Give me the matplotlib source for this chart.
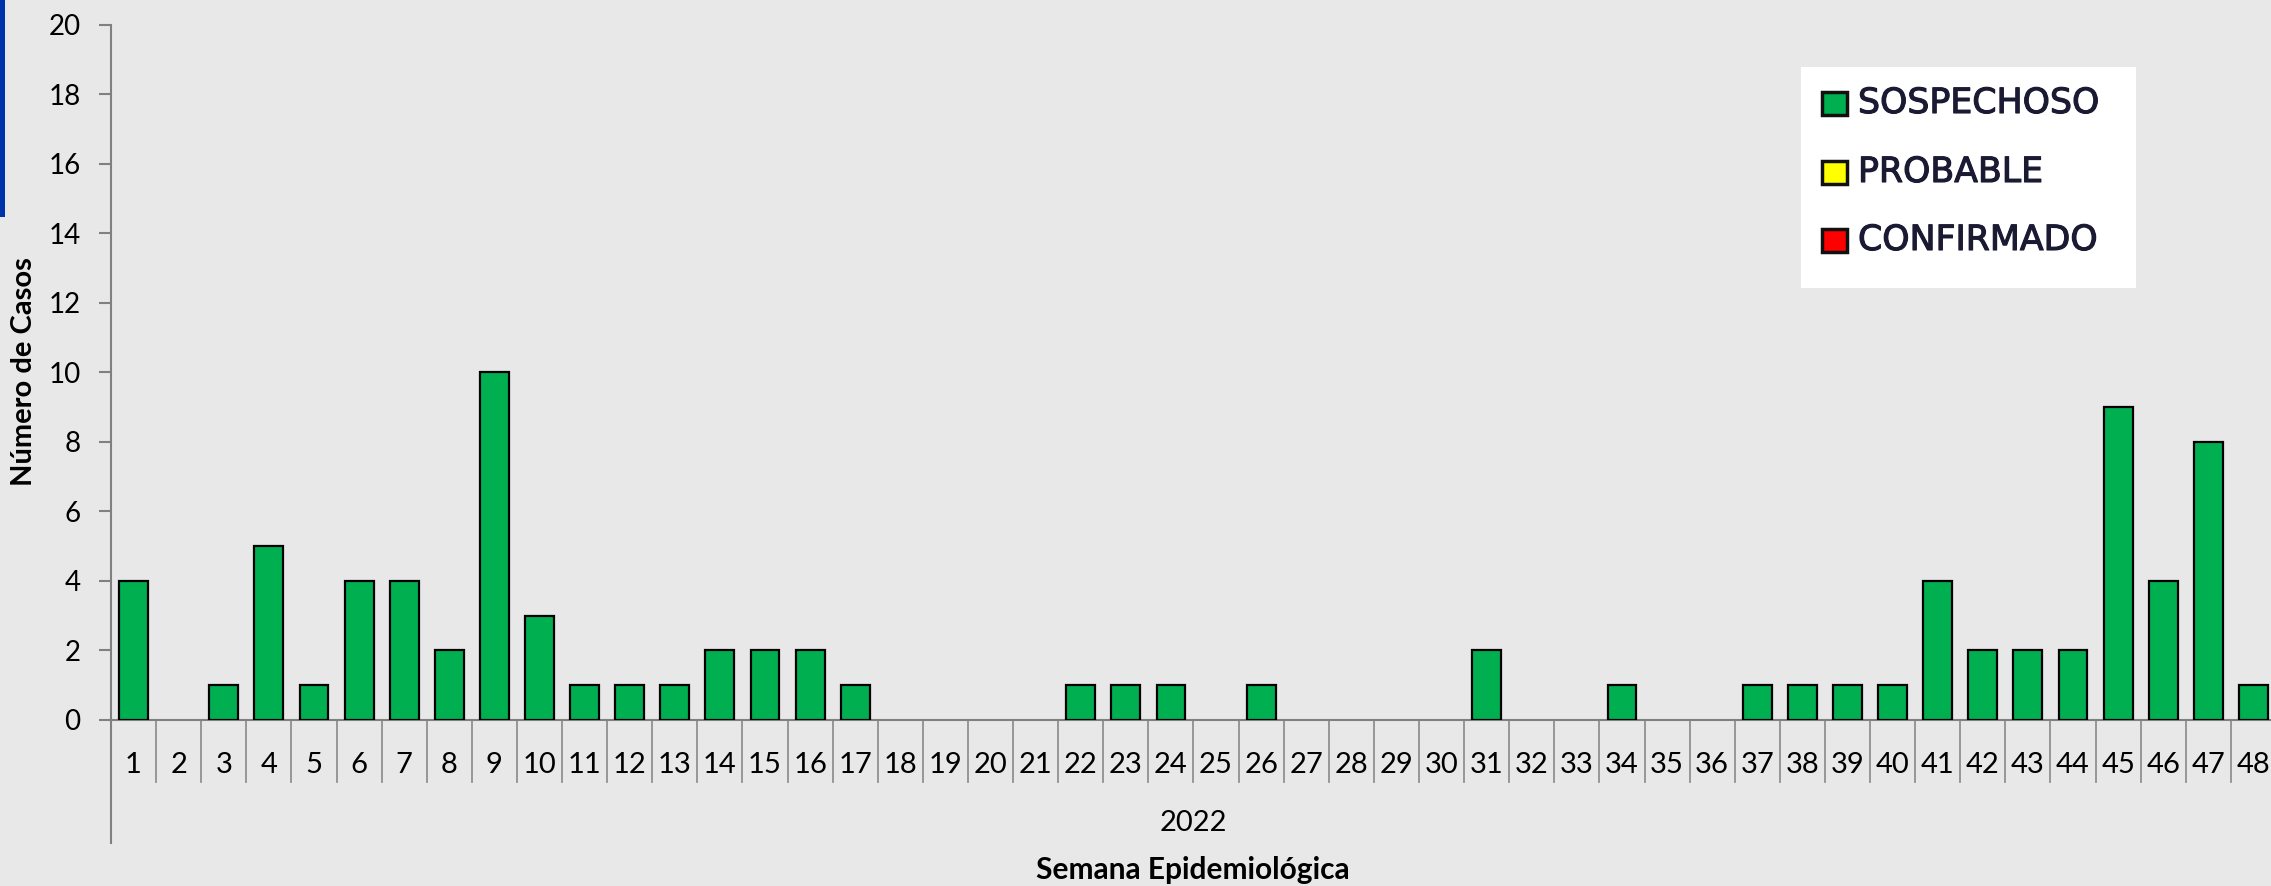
import matplotlib
matplotlib.use("Agg")
import matplotlib.pyplot as plt
from matplotlib.patches import Rectangle
import matplotlib.transforms as mtransforms
import matplotlib.patheffects as pe

weeks = [str(i) for i in range(1, 49)]
sospechoso = [4, 0, 1, 5, 1, 4, 4, 2, 10, 3, 1, 1, 1, 2, 2, 2, 1, 0, 0, 0, 0,
              1, 1, 1, 0, 1, 0, 0, 0, 0, 2, 0, 0, 1, 0, 0, 1, 1, 1, 1, 4, 2,
              2, 2, 9, 4, 8, 1]
legend_labels = ["SOSPECHOSO", "PROBABLE", "CONFIRMADO"]
legend_colors = ["#00B050", "#FFFF00", "#FF0000"]
year_label = "2022"
yticks = list(range(0, 21, 2))

plt.rcParams['font.family'] = ['Lato', 'DejaVu Sans']

W, H = 2271, 886
fig = plt.figure(figsize=(W / 100, H / 100), dpi=100)
bg = "#E8E8E8"
fig.patch.set_facecolor(bg)

ax = fig.add_axes([111 / W, (H - 720) / H, (2276 - 111) / W, (720 - 24.5) / H])
ax.set_facecolor("none")

x = list(range(len(weeks)))
lws = [1.6 if v > 0 else 0 for v in sospechoso]
ax.bar(x, sospechoso, width=0.64, color="#00B050", edgecolor="black", linewidth=lws, zorder=3)

ax.set_xlim(-0.5, len(weeks) - 0.5)
ax.set_ylim(0, 20)
ax.set_yticks(yticks)
ax.set_yticklabels([str(v) for v in yticks], fontsize=20)
ax.tick_params(axis='y', length=9, width=1.5, color="#808080", pad=13)
ax.set_xticks(x)
ax.set_xticklabels(weeks, fontsize=21)
ax.tick_params(axis='x', length=0, pad=23)

for s in ["top", "right"]:
    ax.spines[s].set_visible(False)
for s in ["left", "bottom"]:
    ax.spines[s].set_color("#808080")
    ax.spines[s].set_linewidth(1.5)
ax.spines["left"].set_bounds(0, 20)

trans = mtransforms.blended_transform_factory(ax.transData, ax.transAxes)
for i in range(1, len(weeks) + 1):
    ax.plot([i - 0.5, i - 0.5], [0, -0.089], transform=trans, color="#909090",
            linewidth=1.3, clip_on=False)
ax.plot([-0.5, -0.5], [0, -0.177], transform=trans, color="#808080",
        linewidth=1.5, clip_on=False)

ax.text(0.5, -0.148, year_label, transform=ax.transAxes, ha="center", va="center", fontsize=21)
fig.text(1193 / W, 1 - 870 / H, "Semana Epidemiológica", ha="center", va="center",
         fontsize=21.5, fontweight="bold")
fig.text(24 / W, 1 - 372 / H, "Número de Casos", ha="center", va="center",
         rotation=90, fontsize=21, fontweight="bold")

# blue bar top-left
fig.patches.append(Rectangle((0, 1 - 217 / H), 5 / W, 217 / H, transform=fig.transFigure,
                             facecolor="#0033AA", edgecolor="none", zorder=5))

# legend
fig.patches.append(Rectangle((1801 / W, 1 - 288 / H), (2136 - 1801) / W, (288 - 67) / H,
                             transform=fig.transFigure, facecolor="white", edgecolor="none", zorder=5))
row_y = [103, 172, 240]
for lab, col, yy in zip(legend_labels, legend_colors, row_y):
    fig.patches.append(Rectangle((1822 / W, 1 - (yy + 12) / H), 25 / W, 23 / H,
                                 transform=fig.transFigure, facecolor=col,
                                 edgecolor="#111111", linewidth=2.5, zorder=6))
    fig.text(1858 / W, 1 - yy / H, lab, ha="left", va="center", fontsize=25,
             family="DejaVu Sans", color="#1a1a33", zorder=7,
             path_effects=[pe.withStroke(linewidth=0.8, foreground="#1a1a33")])

fig.savefig("out.png", dpi=100, facecolor=fig.get_facecolor())
